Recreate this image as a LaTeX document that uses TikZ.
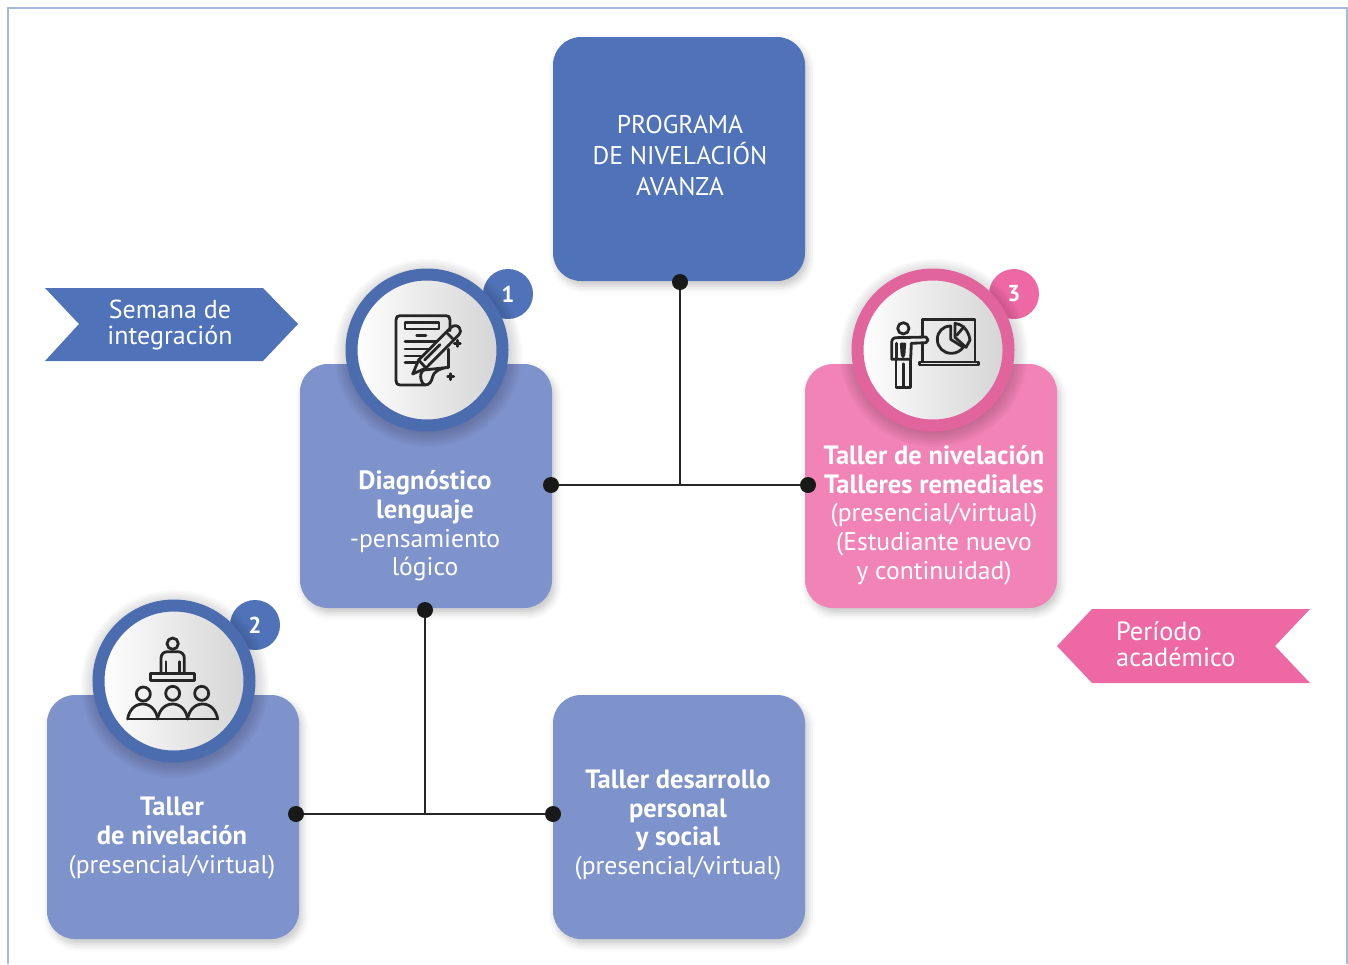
\documentclass[tikz,border=0pt]{standalone}
\usepackage{fontspec}
\setmainfont{PT Sans}
\usepackage{xcolor}
\usetikzlibrary{shadows.blur}
\definecolor{darkblue}{HTML}{4F72B8}
\definecolor{lightblue}{HTML}{7E92CB}
\definecolor{darkpink}{HTML}{EE69A4}
\definecolor{lightpink}{HTML}{F283B6}
\definecolor{framecol}{HTML}{A9B7DF}
\newcommand{\semi}[1]{{\fontsize{26.5}{28.7}\selectfont\textbf{#1}}}
\newcommand{\ringshade}[2]{\foreach \r in {80,82,...,94} {\fill[black,opacity=.022] (#1+1,#2+3) circle (\r);}}
\tikzset{
  softshadow/.style={blur shadow={shadow xshift=3pt,shadow yshift=-5pt,shadow blur radius=7pt,shadow opacity=22}},
  boxnode/.style={rectangle,rounded corners=28pt,minimum width=252pt,minimum height=244pt,inner sep=0pt,softshadow},
  boxtext/.style={white,align=center,inner sep=0pt,font=\fontsize{25.6}{28.7}\selectfont},
  ringnode/.style={circle,line width=12pt,minimum size=151pt,inner sep=0pt,left color=white,right color=black!17},
  badgenode/.style={circle,minimum size=50pt,inner sep=0pt,text=white,font=\fontsize{23}{23}\selectfont\bfseries},
  dotnode/.style={circle,fill=black!90,minimum size=16pt,inner sep=0pt},
  iconline/.style={line width=2.8pt,black!85,line cap=round,line join=round}
}

\begin{document}
\begin{tikzpicture}[x=1pt,y=-1pt]
\useasboundingbox (0,0) rectangle (1348,964);
\draw[framecol,line width=1.6pt] (8,964) -- (8,8) -- (1347,8) -- (1347,964);

\fill[darkblue] (45,288) -- (263,288) -- (298,324) -- (263,361) -- (45,361) -- (79,324) -- cycle;
\node[boxtext,font=\fontsize{26}{26.5}\selectfont] (semanatext) at (170,325) {Semana de\\integración};
\fill[darkpink] (1310,609) -- (1092,609) -- (1057,646) -- (1092,683) -- (1310,683) -- (1275,646) -- cycle;
\node[boxtext,align=left,anchor=west,font=\fontsize{26.3}{26.5}\selectfont] (periodotext) at (1116,644) {Período\\académico};

\node[boxnode,fill=darkblue] (prog) at (679,159) {};
\node[boxnode,fill=lightblue] (diag) at (426,486) {};
\node[boxnode,fill=lightpink] (rem) at (931,486) {};
\node[boxnode,fill=lightblue] (tal) at (173,817) {};
\node[boxnode,fill=lightblue] (des) at (679,817) {};

\node[boxtext,font=\fontsize{25.6}{31}\selectfont] (progtext) at (680,156) {PROGRAMA\\DE NIVELACIÓN\\AVANZA};
\node[boxtext] (diagtext) at (425,526) {\semi{Diagnóstico}\\\semi{lenguaje}\\-pensamiento\\lógico};
\node[boxtext] (remtext) at (934,515) {\semi{Taller de nivelación}\\\semi{Talleres remediales}\\(presencial/virtual)\\(Estudiante nuevo\\y continuidad)};
\node[boxtext] (taltext) at (172,838) {\semi{Taller}\\\semi{de nivelación}\\(presencial/virtual)};
\node[boxtext] (destext) at (678,825) {\semi{Taller desarrollo}\\\semi{personal}\\\semi{y social}\\(presencial/virtual)};

\node[badgenode,fill=darkblue] (badgeone) at (508,294) {1};
\node[badgenode,fill=darkpink] (badgethree) at (1014,294) {3};
\node[badgenode,fill=darkblue] (badgetwo) at (255,625) {2};
\ringshade{427}{350}
\ringshade{933}{350}
\ringshade{174}{681}
\node[ringnode,draw=darkblue!95!black] (ringone) at (427,350) {};
\node[ringnode,draw=darkpink!95!black] (ringthree) at (933,350) {};
\node[ringnode,draw=darkblue!95!black] (ringtwo) at (174,681) {};

\node[dotnode] (dotprog) at (680,282) {};
\node[dotnode] (dotdiag) at (551,485) {};
\node[dotnode] (dotrem) at (808,485) {};
\node[dotnode] (dotdown) at (425,610) {};
\node[dotnode] (dottal) at (296,814) {};
\node[dotnode] (dotdes) at (553,814) {};
\coordinate (jointop) at (680,485);
\coordinate (joinlow) at (425,814);
\draw[line width=1.6pt,black!85] (dotprog) -- (jointop);
\draw[line width=1.6pt,black!85] (dotdiag) -- (dotrem);
\draw[line width=1.6pt,black!85] (dotdown) -- (joinlow);
\draw[line width=1.6pt,black!85] (dottal) -- (dotdes);

% icono documento
\begin{scope}[shift={(340,260)},scale=1/3,iconline]
\draw (168,362) -- (168,180) .. controls (168,171) and (172,167) .. (180,167) -- (318,167) .. controls (326,167) and (330,171) .. (330,180) -- (330,212);
\draw (325,268) -- (325,322);
\draw (168,362) .. controls (168,371) and (172,375) .. (180,375) -- (255,375) .. controls (268,375) and (275,365) .. (278,350) .. controls (280,338) and (295,325) .. (325,322) -- (252,330) .. controls (243,335) and (240,345) .. (243,358) .. controls (246,368) and (250,373) .. (255,375);
\draw (195,188) rectangle (297,207);
\draw (230,227) -- (258,227);
\draw (195,245) -- (290,245);
\draw (195,267) -- (270,267);
\draw (195,288) -- (250,288);
\draw (195,308) -- (232,308);
\draw (218,342) -- (236,300) -- (332,203) .. controls (342,194) and (352,196) .. (358,203) .. controls (364,210) and (362,218) .. (355,226) -- (258,324) -- cycle;
\draw (236,300) -- (258,324);
\draw (320,218) -- (342,240);
\draw (254,300) -- (300,254);
\draw (352,241) -- (352,259);
\draw (343,250) -- (361,250);
\draw (332,341) -- (332,359);
\draw (323,350) -- (341,350);
\end{scope}

% icono aula
\begin{scope}[shift={(85,595)},scale=1/3,iconline]
\draw (263,146) circle (17);
\draw (228,235) -- (228,190) .. controls (228,178) and (236,170) .. (248,170) -- (278,170) .. controls (290,170) and (298,178) .. (298,190) -- (298,235);
\draw (243,200) -- (243,232);
\draw (283,200) -- (283,232);
\draw (197,236) rectangle (328,257);
\draw (175,297) circle (21);
\draw (263,295) circle (21);
\draw (350,295) circle (21);
\draw (128,372) -- (398,372);
\draw (128,372) .. controls (132,345) and (150,327) .. (173,327) .. controls (196,327) and (214,345) .. (218,372);
\draw (218,372) .. controls (222,345) and (240,327) .. (263,327) .. controls (286,327) and (304,345) .. (308,372);
\draw (308,372) .. controls (312,345) and (330,327) .. (353,327) .. controls (376,327) and (394,345) .. (398,372);
\end{scope}

% icono presentador
\begin{scope}[shift={(840,260)},scale=1/3,iconline]
\draw (190,205) circle (17);
\draw (155,290) -- (155,248) .. controls (155,238) and (160,233) .. (170,233) -- (258,231) -- (264,240) -- (258,248) -- (214,250) -- (212,298) -- (155,298) -- (155,290);
\draw (170,250) -- (170,298);
\draw (168,298) -- (168,382) -- (190,382) -- (190,312);
\draw (190,312) -- (190,382) -- (211,382) -- (211,298);
\draw (184,252) -- (194,252) -- (192,282) -- (189,290) -- (186,282) -- cycle;
\draw (247,230) -- (247,178) -- (405,178) -- (405,305);
\draw (247,250) -- (247,305);
\draw (238,306) rectangle (415,315);
\draw (332,198) .. controls (308,198) and (292,216) .. (292,238) .. controls (292,262) and (310,280) .. (334,280) .. controls (350,280) and (362,272) .. (370,262) -- (332,238) -- cycle;
\draw (345,190) .. controls (365,192) and (385,208) .. (390,240) -- (378,262) -- (345,232) -- cycle;
\draw (350,226) -- (372,200);
\end{scope}
\end{tikzpicture}
\end{document}
